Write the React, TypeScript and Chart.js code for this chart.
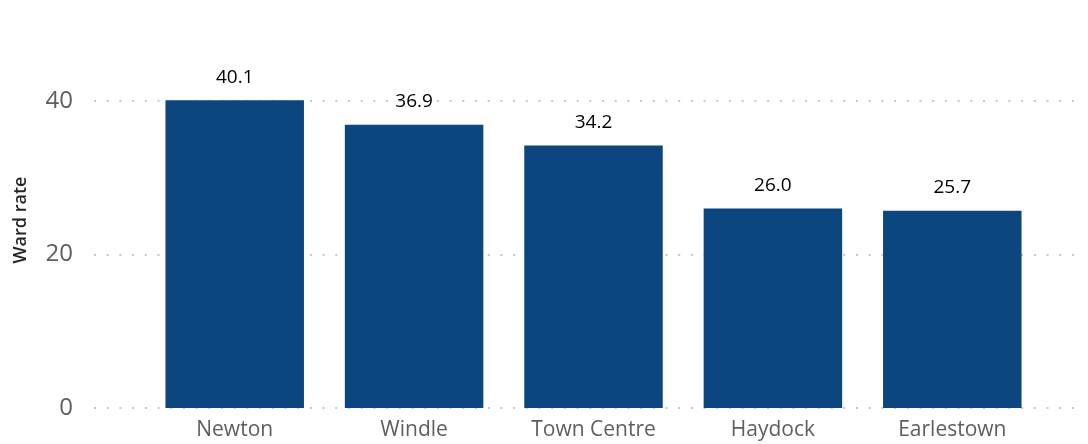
import React, { useEffect, useRef } from "react";
import { Chart, registerables } from "chart.js";

Chart.register(...registerables);

const categories = ["Newton", "Windle", "Town Centre", "Haydock", "Earlestown"];
const wardRates = [40.1, 36.9, 34.2, 26.0, 25.7];
const yTicks = [0, 20, 40];

const FONT = "'Open Sans', 'Noto Sans', sans-serif";

const dottedGrid = {
  id: "dottedGrid",
  beforeDatasetsDraw(chart: any) {
    const { ctx } = chart;
    const y = chart.scales.y;
    ctx.save();
    ctx.strokeStyle = "#C8C6C4";
    ctx.lineWidth = 2;
    ctx.setLineDash([2, 10.7]);
    yTicks.forEach((v) => {
      const py = Math.round(y.getPixelForValue(v));
      ctx.beginPath();
      ctx.moveTo(94, py);
      ctx.lineTo(1082, py);
      ctx.stroke();
    });
    ctx.restore();
  },
};

const dataLabels = {
  id: "dataLabels",
  afterDatasetsDraw(chart: any) {
    const { ctx } = chart;
    const meta = chart.getDatasetMeta(0);
    ctx.save();
    ctx.fillStyle = "#000000";
    ctx.font = `19px ${FONT}`;
    ctx.textAlign = "center";
    ctx.textBaseline = "middle";
    meta.data.forEach((bar: any, i: number) => {
      ctx.fillText(wardRates[i].toFixed(1), bar.x, bar.y - 23);
    });
    ctx.restore();
  },
};

export default function App() {
  const ref = useRef<HTMLCanvasElement | null>(null);
  useEffect(() => {
    if (!ref.current) return;
    const chart = new Chart(ref.current, {
      type: "bar",
      data: {
        labels: categories,
        datasets: [
          {
            data: wardRates,
            backgroundColor: "#0B467F",
            barPercentage: 0.772,
            categoryPercentage: 1,
          },
        ],
      },
      options: {
        animation: false,
        responsive: true,
        maintainAspectRatio: false,
        devicePixelRatio: 1,
        layout: { padding: { top: 32, left: 0, right: 46, bottom: 0 } },
        plugins: { legend: { display: false }, tooltip: { enabled: false } },
        scales: {
          x: {
            grid: { display: false, drawTicks: false },
            border: { display: false },
            ticks: {
              color: "#605E5C",
              font: { family: FONT, size: 21 },
              padding: 9,
              maxRotation: 0,
            },
            afterFit(scale: any) {
              scale.height = 36;
              scale.paddingLeft = 0;
              scale.paddingRight = 0;
            },
          },
          y: {
            min: 0,
            max: 49,
            grid: { display: false, drawTicks: false },
            border: { display: false },
            ticks: {
              stepSize: 20,
              includeBounds: false,
              color: "#605E5C",
              font: { family: FONT, size: 24 },
              padding: 72,
            },
            afterBuildTicks(scale: any) {
              scale.ticks = yTicks.map((v) => ({ value: v }));
            },
            title: {
              display: true,
              text: "Ward rate",
              color: "#252423",
              font: { family: FONT, size: 18, weight: "600" },
              padding: { top: 10, bottom: 0 },
            },
            afterFit(scale: any) {
              scale.width = 145;
              scale.paddingTop = 0;
              scale.paddingBottom = 0;
            },
          },
        },
      },
      plugins: [dottedGrid, dataLabels],
    });
    return () => chart.destroy();
  }, []);
  return (
    <div style={{ position: "absolute", left: 0, top: 0, width: 1088, height: 444, background: "#fff" }}>
      <canvas ref={ref} />
    </div>
  );
}
